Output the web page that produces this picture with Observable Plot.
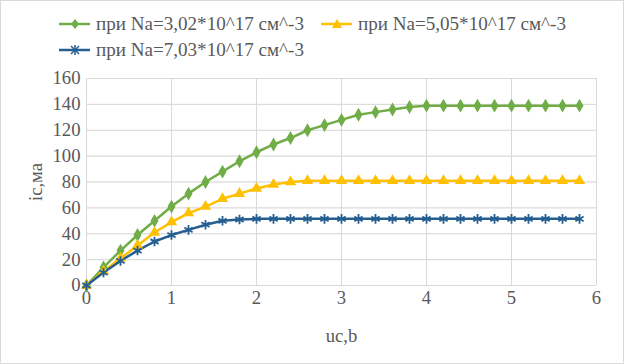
<!DOCTYPE html>
<html><head><meta charset="utf-8">
<script src="https://cdn.jsdelivr.net/npm/d3@7"></script>
<script src="https://cdn.jsdelivr.net/npm/@observablehq/plot@0.6"></script>
<style>
html,body{margin:0;padding:0;background:#fff;}
#wrap{width:624px;height:364px;box-sizing:border-box;border:1px solid #d9d9d9;position:relative;overflow:hidden;color:#595959;}
#legend{height:59px;position:relative;}
.item{position:absolute;display:flex;align-items:center;white-space:nowrap;line-height:1;}
.item svg{margin-right:5px;}
</style></head>
<body><div id="wrap"><div id="legend"></div><div id="chart"></div></div>
<script>
const uc = [0,0.2,0.4,0.6,0.8,1.0,1.2,1.4,1.6,1.8,2.0,2.2,2.4,2.6,2.8,3.0,3.2,3.4,3.6,3.8,4.0,4.2,4.4,4.6,4.8,5.0,5.2,5.4,5.6,5.8];
const ic1 = [0,14,27,39,50,61,71,80,88,96,103,109,114,120,124,128,132,134,136,138,139,139,139,139,139,139,139,139,139,139];
const ic2 = [0,11,21,31,41,49,56,61,67,71,75,78,80,81,81,81,81,81,81,81,81,81,81,81,81,81,81,81,81,81];
const ic3 = [0,10,19,27,34,39,43,47,50,51,51.5,51.5,51.5,51.5,51.5,51.5,51.5,51.5,51.5,51.5,51.5,51.5,51.5,51.5,51.5,51.5,51.5,51.5,51.5,51.5];
const seriesNames = ["при Na=3,02*10^17 см^-3","при Na=5,05*10^17 см^-3","при Na=7,03*10^17 см^-3"];
const colors = ["#70AD47","#FFC000","#255E91"];
const symbols = ["diamond","triangle","asterisk"];
const xTicks = [0,1,2,3,4,5,6];
const yTicks = [0,20,40,60,80,100,120,140,160];
const xLabel = "uc,b", yLabel = "ic,ма";

const FONT = "'Times New Roman', 'Liberation Serif', Tinos, 'Noto Serif', 'DejaVu Serif', FreeSerif, serif";
const cv = document.createElement("canvas").getContext("2d");
function fit(text, target) { cv.font = "100px " + FONT; return 100 * target / cv.measureText(text).width; }
const legendSize = Math.min(22, fit(seriesNames[0], 208));
const tickSize = Math.min(22, fit("160", 28));
document.getElementById("wrap").style.fontFamily = FONT;

const allSeries = [ic1, ic2, ic3];
const data = [];
allSeries.forEach((arr, s) => arr.forEach((v, i) => data.push({x: uc[i], y: v, s: seriesNames[s]})));

// legend
const legendPos = [[56,23],[318,23],[56,49]];
const leg = document.getElementById("legend");
leg.style.fontSize = legendSize + "px";
seriesNames.forEach((n, i) => {
  const d = document.createElement("div");
  d.className = "item";
  d.style.left = legendPos[i][0] + "px";
  d.style.top = (legendPos[i][1] - 11) + "px";
  let mk = "";
  if (i === 0) mk = `<path d="M18,6 L22,11 L18,16 L14,11Z" fill="${colors[i]}"/>`;
  if (i === 1) mk = `<path d="M18,6 L23,15 L13,15Z" fill="${colors[i]}"/>`;
  if (i === 2) mk = `<g stroke="${colors[i]}" stroke-width="1.5"><line x1="18" y1="6" x2="18" y2="16"/><line x1="14" y1="7" x2="22" y2="15"/><line x1="22" y1="7" x2="14" y2="15"/></g>`;
  d.innerHTML = `<svg width="34" height="22"><line x1="2" y1="11" x2="33" y2="11" stroke="${colors[i]}" stroke-width="2.5"/>${mk}</svg><span>${n}</span>`;
  leg.appendChild(d);
});

const chart = Plot.plot({
  width: 622, height: 303,
  marginLeft: 85, marginRight: 27, marginTop: 18, marginBottom: 78,
  style: {fontFamily: FONT, fontSize: tickSize + "px", color: "#595959", background: "#fff"},
  x: {domain: [0,6], ticks: xTicks, tickFormat: d3.format("d"), tickSize: 0, tickPadding: 5, grid: true, label: xLabel, labelArrow: "none", labelAnchor: "center", labelOffset: 56},
  y: {domain: [0,160], ticks: yTicks, tickFormat: d3.format("d"), tickSize: 0, tickPadding: 6, grid: true, label: yLabel, labelArrow: "none", labelAnchor: "center", labelOffset: 58},
  color: {domain: seriesNames, range: colors},
  symbol: {domain: seriesNames, range: symbols},
  marks: [
    Plot.gridX(xTicks, {stroke: "#d9d9d9", strokeOpacity: 1}),
    Plot.gridY(yTicks, {stroke: "#d9d9d9", strokeOpacity: 1}),
    Plot.line(data, {x: "x", y: "y", z: "s", stroke: "s", strokeWidth: 2.5}),
    Plot.dot(data.filter(d => d.s !== seriesNames[2]), {x: "x", y: "y", fill: "s", symbol: "s", r: 4.2, stroke: "none"}),
    Plot.dot(data.filter(d => d.s === seriesNames[2]), {x: "x", y: "y", stroke: "s", symbol: "s", r: 4.5, strokeWidth: 1.8, fill: "none"})
  ]
});
document.getElementById("chart").appendChild(chart);
</script></body></html>
